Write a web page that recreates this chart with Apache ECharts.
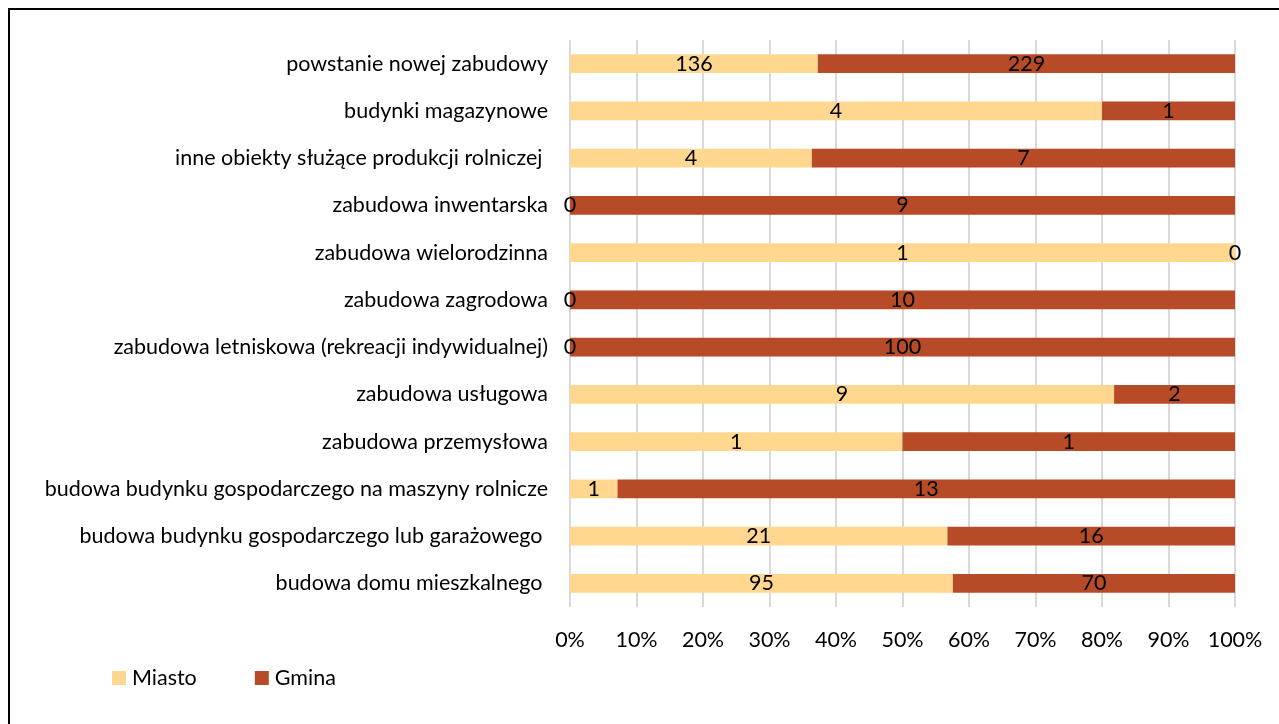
<!DOCTYPE html>
<html>
<head>
<meta charset="utf-8">
<script src="https://cdn.jsdelivr.net/npm/echarts@6/dist/echarts.min.js"></script>
<style>
  html, body { margin: 0; padding: 0; background: #fff; }
  #chart { width: 1279px; height: 724px; }
  #frame { position: absolute; left: 8px; top: 8px; width: 1400px; height: 800px;
           border-left: 2px solid #000; border-top: 2px solid #000; pointer-events: none; }
</style>
</head>
<body>
<div id="chart"></div>
<div id="frame"></div>
<script>
  // kategorie od góry do dołu
  var categories = [
    'powstanie nowej zabudowy',
    'budynki magazynowe',
    'inne obiekty służące produkcji rolniczej ',
    'zabudowa inwentarska',
    'zabudowa wielorodzinna',
    'zabudowa zagrodowa',
    'zabudowa letniskowa (rekreacji indywidualnej)',
    'zabudowa usługowa',
    'zabudowa przemysłowa',
    'budowa budynku gospodarczego na maszyny rolnicze',
    'budowa budynku gospodarczego lub garażowego ',
    'budowa domu mieszkalnego '
  ];
  var miasto = [136, 4, 4, 0, 1, 0, 0, 9, 1, 1, 21, 95];
  var gmina = [229, 1, 7, 9, 0, 10, 100, 2, 1, 13, 16, 70];
  var tickLabels = ['0%', '10%', '20%', '30%', '40%', '50%', '60%', '70%', '80%', '90%', '100%'];

  var font = 'Lato, "Noto Sans", sans-serif';
  var fs = 21.5;

  // udział procentowy dla wykresu 100%
  function share(arr, i) {
    var total = miasto[i] + gmina[i];
    return total ? arr[i] / total * 100 : 0;
  }
  var miastoPct = miasto.map(function (v, i) { return share(miasto, i); });
  var gminaPct = gmina.map(function (v, i) { return share(gmina, i); });

  var chart = echarts.init(document.getElementById('chart'));
  chart.setOption({
    animation: false,
    textStyle: { fontFamily: font },
    grid: { left: 570, right: 44, top: 40, bottom: 117 },
    legend: {
      left: 107, top: 662,
      itemWidth: 14, itemHeight: 14, itemGap: 58,
      icon: 'rect',
      textStyle: { fontFamily: font, fontSize: fs, color: '#000', padding: [0, 0, 0, 1] },
      data: ['Miasto', 'Gmina']
    },
    xAxis: {
      type: 'value', min: 0, max: 100, interval: 10,
      axisLine: { show: false }, axisTick: { show: false },
      splitLine: { lineStyle: { color: '#d9d9d9', width: 2 } },
      axisLabel: {
        margin: 22, fontSize: fs, color: '#000', fontFamily: font,
        formatter: function (v) { return tickLabels[Math.round(v / 10)]; }
      }
    },
    yAxis: {
      type: 'category', inverse: true, data: categories,
      axisLine: { show: false }, axisTick: { show: false },
      axisLabel: { margin: 22, fontSize: fs, color: '#000', fontFamily: font }
    },
    series: [
      {
        name: 'Miasto', type: 'bar', stack: 'a', barWidth: '40%',
        itemStyle: { color: '#FFD78F' },
        label: {
          show: true, position: 'inside', color: '#000', fontSize: fs, fontFamily: font,
          formatter: function (p) { return miasto[p.dataIndex]; }
        },
        data: miastoPct
      },
      {
        name: 'Gmina', type: 'bar', stack: 'a', barWidth: '40%',
        itemStyle: { color: '#B84B27' },
        label: {
          show: true, position: 'inside', color: '#000', fontSize: fs, fontFamily: font,
          formatter: function (p) { return gmina[p.dataIndex]; }
        },
        data: gminaPct
      }
    ]
  });
</script>
</body>
</html>
